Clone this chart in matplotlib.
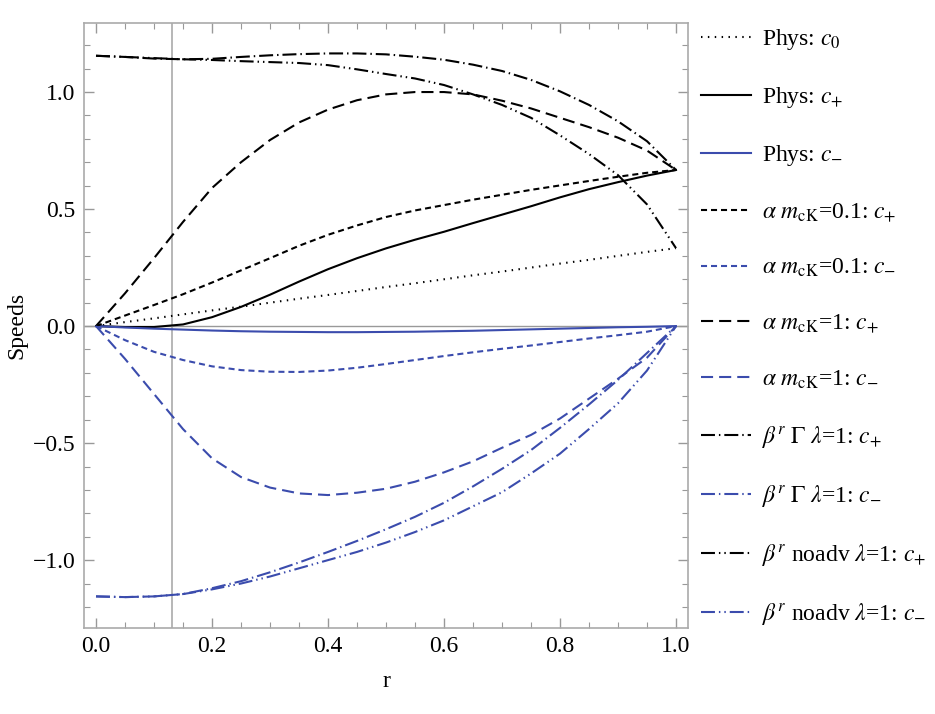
import numpy as np
import matplotlib
matplotlib.use("Agg")
from matplotlib import pyplot as plt
from matplotlib.ticker import MultipleLocator

# radial grid (r) shared by every curve
r = [0.0, 0.05, 0.1, 0.15, 0.2, 0.25, 0.3, 0.35, 0.4, 0.45, 0.5,
     0.55, 0.6, 0.65, 0.7, 0.75, 0.8, 0.85, 0.9, 0.95, 1.0]

phys_c0 = [0.0, 0.017, 0.033, 0.05, 0.067, 0.083, 0.1, 0.117, 0.133, 0.15, 0.167,
           0.183, 0.2, 0.217, 0.233, 0.25, 0.267, 0.283, 0.3, 0.317, 0.333]
phys_cp = [0.0, -0.004, -0.004, 0.007, 0.038, 0.082, 0.134, 0.19, 0.243, 0.29, 0.332,
           0.369, 0.403, 0.44, 0.476, 0.512, 0.55, 0.585, 0.615, 0.643, 0.667]
phys_cm = [0.0, -0.006, -0.011, -0.015, -0.019, -0.022, -0.024, -0.025, -0.026, -0.026, -0.025,
           -0.024, -0.022, -0.02, -0.017, -0.014, -0.011, -0.008, -0.005, -0.003, 0.0]
a01_cp = [0.0, 0.045, 0.09, 0.136, 0.186, 0.238, 0.29, 0.343, 0.39, 0.43, 0.466,
          0.494, 0.517, 0.54, 0.561, 0.582, 0.601, 0.62, 0.638, 0.655, 0.667]
a01_cm = [0.0, -0.06, -0.11, -0.145, -0.172, -0.188, -0.195, -0.196, -0.19, -0.178, -0.162,
          -0.145, -0.128, -0.112, -0.097, -0.083, -0.068, -0.053, -0.039, -0.024, 0.0]
a1_cp = [0.0, 0.14, 0.29, 0.445, 0.59, 0.70, 0.795, 0.87, 0.925, 0.965, 0.99,
         1.0, 1.0, 0.99, 0.963, 0.93, 0.89, 0.85, 0.805, 0.75, 0.667]
a1_cm = [0.0, -0.14, -0.29, -0.44, -0.565, -0.645, -0.69, -0.715, -0.722, -0.712, -0.695,
         -0.665, -0.625, -0.578, -0.52, -0.465, -0.395, -0.31, -0.225, -0.135, 0.0]
bg_cp = [1.155, 1.15, 1.143, 1.14, 1.142, 1.15, 1.157, 1.162, 1.165, 1.165, 1.161,
         1.151, 1.138, 1.117, 1.09, 1.052, 1.003, 0.945, 0.875, 0.79, 0.667]
bg_cm = [-1.155, -1.158, -1.155, -1.145, -1.12, -1.09, -1.052, -1.01, -0.965, -0.918, -0.868,
         -0.815, -0.755, -0.685, -0.61, -0.53, -0.435, -0.335, -0.23, -0.115, 0.0]
bn_cp = [1.155, 1.15, 1.145, 1.14, 1.137, 1.132, 1.128, 1.124, 1.115, 1.097, 1.077,
         1.058, 1.03, 0.99, 0.945, 0.89, 0.815, 0.735, 0.645, 0.52, 0.333]
bn_cm = [-1.155, -1.158, -1.155, -1.145, -1.125, -1.1, -1.07, -1.035, -1.0, -0.965, -0.925,
         -0.88, -0.83, -0.77, -0.71, -0.63, -0.545, -0.44, -0.33, -0.19, 0.0]

r_mark = 0.131

labels = [
    r"Phys: $c_0$",
    r"Phys: $c_{+}$",
    r"Phys: $c_{-}$",
    r"$\alpha\ m_{\rm cK}$=0.1: $c_{+}$",
    r"$\alpha\ m_{\rm cK}$=0.1: $c_{-}$",
    r"$\alpha\ m_{\rm cK}$=1: $c_{+}$",
    r"$\alpha\ m_{\rm cK}$=1: $c_{-}$",
    r"$\beta^r\ \Gamma\ \lambda$=1: $c_{+}$",
    r"$\beta^r\ \Gamma\ \lambda$=1: $c_{-}$",
    r"$\beta^r$ noadv $\lambda$=1: $c_{+}$",
    r"$\beta^r$ noadv $\lambda$=1: $c_{-}$",
]

BLUE = "#3b4cad"
# dash patterns in units of line width
DOT = (0, (0.7, 2.6))
SHORT = (0, (2.9, 1.9))
LONG = (0, (5.8, 2.9))
DASHDOT = (0, (6.7, 1.9, 0.7, 1.9))
DASHDOTDOT = (0, (6.7, 1.9, 0.7, 1.9, 0.7, 1.9))

series = [
    (phys_c0, "black", DOT),
    (phys_cp, "black", "-"),
    (phys_cm, BLUE, "-"),
    (a01_cp, "black", SHORT),
    (a01_cm, BLUE, SHORT),
    (a1_cp, "black", LONG),
    (a1_cm, BLUE, LONG),
    (bg_cp, "black", DASHDOT),
    (bg_cm, BLUE, DASHDOT),
    (bn_cp, "black", DASHDOTDOT),
    (bn_cm, BLUE, DASHDOTDOT),
]

FS = 17
plt.rcParams.update({
    "font.family": "Liberation Serif",
    "mathtext.fontset": "stix",
    "font.size": FS,
})

fig = plt.figure(figsize=(9.35, 7.14), dpi=100)
ax = fig.add_axes([84 / 935, 1 - 628 / 714, 604 / 935, 605 / 714])

ax.axhline(0, color="#999999", lw=1.0, zorder=1)
ax.axvline(r_mark, color="#aaaaaa", lw=1.2, zorder=1)

for (y, c, ls), lab in zip(series, labels):
    ax.plot(r, y, color=c, linestyle=ls, lw=1.5, label=lab, zorder=3)

ax.set_xlim(-0.0207, 1.0207)
ax.set_ylim(-1.29, 1.295)
ax.xaxis.set_major_locator(MultipleLocator(0.2))
ax.xaxis.set_minor_locator(MultipleLocator(0.05))
ax.yaxis.set_major_locator(MultipleLocator(0.5))
ax.yaxis.set_minor_locator(MultipleLocator(0.1))
ax.xaxis.set_major_formatter(plt.FuncFormatter(lambda v, p: f"{v:.1f}"))
ax.yaxis.set_major_formatter(plt.FuncFormatter(lambda v, p: f"{v:.1f}".replace("-", "\u2212")))
ax.tick_params(which="both", direction="in", top=True, right=True, color="#999999",
               labelsize=FS)
ax.tick_params(which="major", length=7, width=1.0, pad=6)
ax.tick_params(which="minor", length=4, width=0.8)
for s in ax.spines.values():
    s.set_color("#aaaaaa")
    s.set_linewidth(1.2)

ax.set_xlabel("r", fontsize=FS, labelpad=10)
ax.set_ylabel("Speeds", fontsize=FS, labelpad=4)

ax.legend(loc="upper left", bbox_to_anchor=(701 / 935, 1 - 27 / 714),
          bbox_transform=fig.transFigure, frameon=False, fontsize=FS,
          handlelength=2.1, handletextpad=0.47, labelspacing=1.40,
          borderaxespad=0, borderpad=0)

fig.savefig("out.png", dpi=100)
